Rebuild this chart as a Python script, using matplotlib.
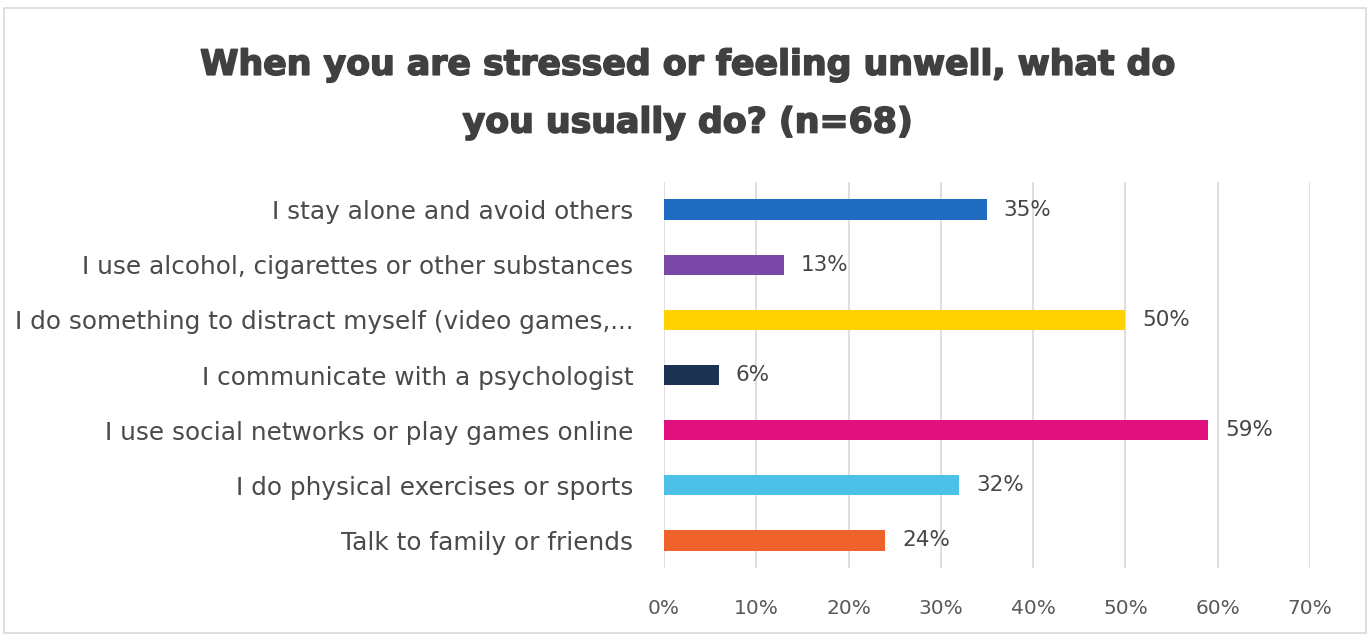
import matplotlib.pyplot as plt
import matplotlib.patheffects as pe
from matplotlib.patches import Rectangle

# Survey answers, top to bottom as shown
categories = [
    "I stay alone and avoid others",
    "I use alcohol, cigarettes or other substances",
    "I do something to distract myself (video games,...",
    "I communicate with a psychologist",
    "I use social networks or play games online",
    "I do physical exercises or sports",
    "Talk to family or friends",
]
values = [35, 13, 50, 6, 59, 32, 24]
colors = ["#1F6BC0", "#7A48A6", "#FFD200", "#1B3350", "#E0107F", "#4CC0E6", "#F0622B"]
xticks = [0, 10, 20, 30, 40, 50, 60, 70]

plt.rcParams["font.family"] = ["DejaVu Sans"]

fig = plt.figure(figsize=(13.7, 6.37), dpi=100)
fig.patches.append(Rectangle((0.003, 0.006), 0.994, 0.982, transform=fig.transFigure,
                             fill=False, edgecolor="#D9D9D9", linewidth=1.2))

ax = fig.add_axes([664 / 1370, 1 - 568 / 637, (1310 - 664) / 1370, (568 - 182) / 637])

y = list(range(len(categories)))
ax.barh(y, values, height=0.37, color=colors, zorder=3)
for yi, v in zip(y, values):
    ax.text(v + 1.8, yi, f"{v}%", va="center", ha="left", fontsize=15.5, color="#454545")

ax.set_xlim(0, 70)
ax.set_ylim(len(categories) - 0.5, -0.5)
ax.set_xticks(xticks)
ax.set_xticklabels([f"{t}%" for t in xticks], fontsize=14.5, color="#595959")
ax.set_yticks(y)
ax.set_yticklabels(categories, fontsize=17.8, color="#4A4A4A")
ax.tick_params(axis="both", length=0)
ax.tick_params(axis="x", pad=22)
ax.tick_params(axis="y", pad=22)
ax.grid(axis="x", color="#D9D9D9", linewidth=1.2, zorder=0)
for s in ax.spines.values():
    s.set_visible(False)

title = fig.text(0.502, 0.853, "When you are stressed or feeling unwell, what do\nyou usually do? (n=68)",
                 ha="center", va="center", fontsize=25, fontweight="bold", color="#404040",
                 linespacing=1.88)
title.set_path_effects([pe.withStroke(linewidth=1.2, foreground="#404040")])

fig.savefig("out.png", dpi=100, facecolor="white")
